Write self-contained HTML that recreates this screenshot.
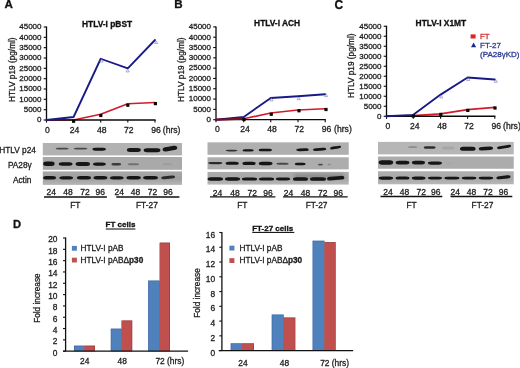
<!DOCTYPE html>
<html><head><meta charset="utf-8"><style>
html,body{margin:0;padding:0;background:#fff;}
svg{display:block;font-family:"Liberation Sans", sans-serif;filter:blur(0.25px);}
</style></head><body>
<svg width="520" height="368" viewBox="0 0 520 368">
<defs><filter id="bl" x="-20%" y="-100%" width="140%" height="300%"><feGaussianBlur stdDeviation="0.7"/></filter><filter id="bl2" x="-20%" y="-100%" width="140%" height="300%"><feGaussianBlur stdDeviation="1.5"/></filter></defs>
<rect width="520" height="368" fill="#fff"/>
<text x="4.60" y="8.10" font-size="11.6" text-anchor="start" font-weight="bold" fill="#111" stroke="#111" stroke-width="0.3" >A</text>
<text x="174.30" y="8.10" font-size="11.6" text-anchor="start" font-weight="bold" fill="#111" stroke="#111" stroke-width="0.3" >B</text>
<text x="334.40" y="8.60" font-size="12" text-anchor="start" font-weight="bold" fill="#111" stroke="#111" stroke-width="0.3" >C</text>
<path d="M46.50,120.00 L73.60,120.00 L100.70,114.25 L127.80,103.75 L155.00,102.50" fill="none" stroke="#d01c2c" stroke-width="1.7" stroke-linejoin="round" stroke-linecap="round" />
<line x1="46.50" y1="26.50" x2="46.50" y2="120.50" stroke="#0a0a0a" stroke-width="1.3" />
<line x1="43.70" y1="120.00" x2="46.50" y2="120.00" stroke="#0a0a0a" stroke-width="1.1" />
<text x="41.50" y="122.30" font-size="8" text-anchor="end" font-weight="normal" fill="#1e1e1e" stroke="#1e1e1e" stroke-width="0.3" >0</text>
<line x1="43.70" y1="109.67" x2="46.50" y2="109.67" stroke="#0a0a0a" stroke-width="1.1" />
<text x="41.50" y="111.97" font-size="8" text-anchor="end" font-weight="normal" fill="#1e1e1e" stroke="#1e1e1e" stroke-width="0.3" >5000</text>
<line x1="43.70" y1="99.33" x2="46.50" y2="99.33" stroke="#0a0a0a" stroke-width="1.1" />
<text x="41.50" y="101.63" font-size="8" text-anchor="end" font-weight="normal" fill="#1e1e1e" stroke="#1e1e1e" stroke-width="0.3" >10000</text>
<line x1="43.70" y1="89.00" x2="46.50" y2="89.00" stroke="#0a0a0a" stroke-width="1.1" />
<text x="41.50" y="91.30" font-size="8" text-anchor="end" font-weight="normal" fill="#1e1e1e" stroke="#1e1e1e" stroke-width="0.3" >15000</text>
<line x1="43.70" y1="78.67" x2="46.50" y2="78.67" stroke="#0a0a0a" stroke-width="1.1" />
<text x="41.50" y="80.97" font-size="8" text-anchor="end" font-weight="normal" fill="#1e1e1e" stroke="#1e1e1e" stroke-width="0.3" >20000</text>
<line x1="43.70" y1="68.33" x2="46.50" y2="68.33" stroke="#0a0a0a" stroke-width="1.1" />
<text x="41.50" y="70.63" font-size="8" text-anchor="end" font-weight="normal" fill="#1e1e1e" stroke="#1e1e1e" stroke-width="0.3" >25000</text>
<line x1="43.70" y1="58.00" x2="46.50" y2="58.00" stroke="#0a0a0a" stroke-width="1.1" />
<text x="41.50" y="60.30" font-size="8" text-anchor="end" font-weight="normal" fill="#1e1e1e" stroke="#1e1e1e" stroke-width="0.3" >30000</text>
<line x1="43.70" y1="47.67" x2="46.50" y2="47.67" stroke="#0a0a0a" stroke-width="1.1" />
<text x="41.50" y="49.97" font-size="8" text-anchor="end" font-weight="normal" fill="#1e1e1e" stroke="#1e1e1e" stroke-width="0.3" >35000</text>
<line x1="43.70" y1="37.33" x2="46.50" y2="37.33" stroke="#0a0a0a" stroke-width="1.1" />
<text x="41.50" y="39.63" font-size="8" text-anchor="end" font-weight="normal" fill="#1e1e1e" stroke="#1e1e1e" stroke-width="0.3" >40000</text>
<line x1="43.70" y1="27.00" x2="46.50" y2="27.00" stroke="#0a0a0a" stroke-width="1.1" />
<text x="41.50" y="29.30" font-size="8" text-anchor="end" font-weight="normal" fill="#1e1e1e" stroke="#1e1e1e" stroke-width="0.3" >45000</text>
<line x1="46.50" y1="120.00" x2="155.60" y2="120.00" stroke="#0a0a0a" stroke-width="1.3" />
<line x1="46.50" y1="120.00" x2="46.50" y2="122.60" stroke="#0a0a0a" stroke-width="1.1" />
<line x1="73.60" y1="120.00" x2="73.60" y2="122.60" stroke="#0a0a0a" stroke-width="1.1" />
<line x1="100.70" y1="120.00" x2="100.70" y2="122.60" stroke="#0a0a0a" stroke-width="1.1" />
<line x1="127.80" y1="120.00" x2="127.80" y2="122.60" stroke="#0a0a0a" stroke-width="1.1" />
<line x1="155.00" y1="120.00" x2="155.00" y2="122.60" stroke="#0a0a0a" stroke-width="1.1" />
<text x="47.50" y="133.25" font-size="8.6" text-anchor="middle" font-weight="normal" fill="#1e1e1e" stroke="#1e1e1e" stroke-width="0.3" >0</text>
<text x="74.60" y="133.25" font-size="8.6" text-anchor="middle" font-weight="normal" fill="#1e1e1e" stroke="#1e1e1e" stroke-width="0.3" >24</text>
<text x="101.70" y="133.25" font-size="8.6" text-anchor="middle" font-weight="normal" fill="#1e1e1e" stroke="#1e1e1e" stroke-width="0.3" >48</text>
<text x="128.80" y="133.25" font-size="8.6" text-anchor="middle" font-weight="normal" fill="#1e1e1e" stroke="#1e1e1e" stroke-width="0.3" >72</text>
<text x="156.00" y="133.25" font-size="8.6" text-anchor="middle" font-weight="normal" fill="#1e1e1e" stroke="#1e1e1e" stroke-width="0.3" >96</text>
<text x="162.80" y="133.25" font-size="8.6" text-anchor="start" font-weight="normal" fill="#1e1e1e" stroke="#1e1e1e" stroke-width="0.3" >(hrs)</text>
<text x="82.00" y="26.85" font-size="8.4" text-anchor="start" font-weight="bold" fill="#111" stroke="#111" stroke-width="0.3" >HTLV-I pBST</text>
<text x="0.00" y="0.00" font-size="8.25" text-anchor="middle" font-weight="normal" fill="#1e1e1e" stroke="#1e1e1e" stroke-width="0.3" transform="translate(14.60,69.65) rotate(-90)">HTLV p19 (pg/ml)</text>
<path d="M46.50,120.00 L73.60,117.00 L100.70,58.75 L127.80,68.40 L155.00,40.00" fill="none" stroke="#1a1a86" stroke-width="1.85" stroke-linejoin="round" stroke-linecap="round" />
<rect x="72.00" y="119.60" width="3.20" height="3.20" fill="#050505" />
<rect x="99.20" y="113.90" width="3.20" height="3.20" fill="#050505" />
<rect x="126.20" y="103.60" width="3.20" height="3.20" fill="#050505" />
<rect x="153.80" y="102.00" width="3.20" height="3.20" fill="#050505" />
<path d="M216.00,119.70 L243.75,118.75 L270.75,113.00 L298.00,110.00 L325.20,108.75" fill="none" stroke="#d01c2c" stroke-width="1.7" stroke-linejoin="round" stroke-linecap="round" />
<line x1="216.00" y1="26.40" x2="216.00" y2="120.20" stroke="#0a0a0a" stroke-width="1.3" />
<line x1="213.20" y1="119.70" x2="216.00" y2="119.70" stroke="#0a0a0a" stroke-width="1.1" />
<text x="211.00" y="122.00" font-size="8" text-anchor="end" font-weight="normal" fill="#1e1e1e" stroke="#1e1e1e" stroke-width="0.3" >0</text>
<line x1="213.20" y1="109.39" x2="216.00" y2="109.39" stroke="#0a0a0a" stroke-width="1.1" />
<text x="211.00" y="111.69" font-size="8" text-anchor="end" font-weight="normal" fill="#1e1e1e" stroke="#1e1e1e" stroke-width="0.3" >5000</text>
<line x1="213.20" y1="99.08" x2="216.00" y2="99.08" stroke="#0a0a0a" stroke-width="1.1" />
<text x="211.00" y="101.38" font-size="8" text-anchor="end" font-weight="normal" fill="#1e1e1e" stroke="#1e1e1e" stroke-width="0.3" >10000</text>
<line x1="213.20" y1="88.77" x2="216.00" y2="88.77" stroke="#0a0a0a" stroke-width="1.1" />
<text x="211.00" y="91.07" font-size="8" text-anchor="end" font-weight="normal" fill="#1e1e1e" stroke="#1e1e1e" stroke-width="0.3" >15000</text>
<line x1="213.20" y1="78.46" x2="216.00" y2="78.46" stroke="#0a0a0a" stroke-width="1.1" />
<text x="211.00" y="80.76" font-size="8" text-anchor="end" font-weight="normal" fill="#1e1e1e" stroke="#1e1e1e" stroke-width="0.3" >20000</text>
<line x1="213.20" y1="68.14" x2="216.00" y2="68.14" stroke="#0a0a0a" stroke-width="1.1" />
<text x="211.00" y="70.44" font-size="8" text-anchor="end" font-weight="normal" fill="#1e1e1e" stroke="#1e1e1e" stroke-width="0.3" >25000</text>
<line x1="213.20" y1="57.83" x2="216.00" y2="57.83" stroke="#0a0a0a" stroke-width="1.1" />
<text x="211.00" y="60.13" font-size="8" text-anchor="end" font-weight="normal" fill="#1e1e1e" stroke="#1e1e1e" stroke-width="0.3" >30000</text>
<line x1="213.20" y1="47.52" x2="216.00" y2="47.52" stroke="#0a0a0a" stroke-width="1.1" />
<text x="211.00" y="49.82" font-size="8" text-anchor="end" font-weight="normal" fill="#1e1e1e" stroke="#1e1e1e" stroke-width="0.3" >35000</text>
<line x1="213.20" y1="37.21" x2="216.00" y2="37.21" stroke="#0a0a0a" stroke-width="1.1" />
<text x="211.00" y="39.51" font-size="8" text-anchor="end" font-weight="normal" fill="#1e1e1e" stroke="#1e1e1e" stroke-width="0.3" >40000</text>
<line x1="213.20" y1="26.90" x2="216.00" y2="26.90" stroke="#0a0a0a" stroke-width="1.1" />
<text x="211.00" y="29.20" font-size="8" text-anchor="end" font-weight="normal" fill="#1e1e1e" stroke="#1e1e1e" stroke-width="0.3" >45000</text>
<line x1="216.00" y1="119.70" x2="325.80" y2="119.70" stroke="#0a0a0a" stroke-width="1.3" />
<line x1="216.00" y1="119.70" x2="216.00" y2="122.30" stroke="#0a0a0a" stroke-width="1.1" />
<line x1="243.75" y1="119.70" x2="243.75" y2="122.30" stroke="#0a0a0a" stroke-width="1.1" />
<line x1="270.75" y1="119.70" x2="270.75" y2="122.30" stroke="#0a0a0a" stroke-width="1.1" />
<line x1="298.00" y1="119.70" x2="298.00" y2="122.30" stroke="#0a0a0a" stroke-width="1.1" />
<line x1="325.20" y1="119.70" x2="325.20" y2="122.30" stroke="#0a0a0a" stroke-width="1.1" />
<text x="217.30" y="132.25" font-size="8.6" text-anchor="middle" font-weight="normal" fill="#1e1e1e" stroke="#1e1e1e" stroke-width="0.3" >0</text>
<text x="245.05" y="132.25" font-size="8.6" text-anchor="middle" font-weight="normal" fill="#1e1e1e" stroke="#1e1e1e" stroke-width="0.3" >24</text>
<text x="272.05" y="132.25" font-size="8.6" text-anchor="middle" font-weight="normal" fill="#1e1e1e" stroke="#1e1e1e" stroke-width="0.3" >48</text>
<text x="299.30" y="132.25" font-size="8.6" text-anchor="middle" font-weight="normal" fill="#1e1e1e" stroke="#1e1e1e" stroke-width="0.3" >72</text>
<text x="326.50" y="132.25" font-size="8.6" text-anchor="middle" font-weight="normal" fill="#1e1e1e" stroke="#1e1e1e" stroke-width="0.3" >96</text>
<text x="334.10" y="132.25" font-size="8.6" text-anchor="start" font-weight="normal" fill="#1e1e1e" stroke="#1e1e1e" stroke-width="0.3" >(hrs)</text>
<text x="254.10" y="26.35" font-size="8.4" text-anchor="start" font-weight="bold" fill="#111" stroke="#111" stroke-width="0.3" >HTLV-I ACH</text>
<text x="0.00" y="0.00" font-size="8.25" text-anchor="middle" font-weight="normal" fill="#1e1e1e" stroke="#1e1e1e" stroke-width="0.3" transform="translate(184.20,69.65) rotate(-90)">HTLV p19 (pg/ml)</text>
<path d="M216.00,119.70 L243.75,117.00 L270.75,98.00 L298.00,96.25 L325.20,94.25" fill="none" stroke="#1a1a86" stroke-width="1.85" stroke-linejoin="round" stroke-linecap="round" />
<path d="M216.00,119.70 L243.75,118.75" fill="none" stroke="#7a1020" stroke-width="1.9" stroke-linejoin="round" stroke-linecap="round" />
<rect x="242.40" y="117.90" width="3.20" height="3.20" fill="#050505" />
<rect x="269.65" y="112.65" width="3.20" height="3.20" fill="#050505" />
<rect x="297.40" y="109.15" width="3.20" height="3.20" fill="#050505" />
<rect x="324.40" y="107.90" width="3.20" height="3.20" fill="#050505" />
<path d="M386.50,116.25 L413.30,115.50 L440.60,113.80 L467.60,109.60 L494.80,107.30" fill="none" stroke="#d01c2c" stroke-width="1.7" stroke-linejoin="round" stroke-linecap="round" />
<line x1="386.50" y1="25.75" x2="386.50" y2="116.75" stroke="#0a0a0a" stroke-width="1.3" />
<line x1="383.70" y1="116.25" x2="386.50" y2="116.25" stroke="#0a0a0a" stroke-width="1.1" />
<text x="381.50" y="118.55" font-size="8" text-anchor="end" font-weight="normal" fill="#1e1e1e" stroke="#1e1e1e" stroke-width="0.3" >0</text>
<line x1="383.70" y1="106.25" x2="386.50" y2="106.25" stroke="#0a0a0a" stroke-width="1.1" />
<text x="381.50" y="108.55" font-size="8" text-anchor="end" font-weight="normal" fill="#1e1e1e" stroke="#1e1e1e" stroke-width="0.3" >5000</text>
<line x1="383.70" y1="96.25" x2="386.50" y2="96.25" stroke="#0a0a0a" stroke-width="1.1" />
<text x="381.50" y="98.55" font-size="8" text-anchor="end" font-weight="normal" fill="#1e1e1e" stroke="#1e1e1e" stroke-width="0.3" >10000</text>
<line x1="383.70" y1="86.25" x2="386.50" y2="86.25" stroke="#0a0a0a" stroke-width="1.1" />
<text x="381.50" y="88.55" font-size="8" text-anchor="end" font-weight="normal" fill="#1e1e1e" stroke="#1e1e1e" stroke-width="0.3" >15000</text>
<line x1="383.70" y1="76.25" x2="386.50" y2="76.25" stroke="#0a0a0a" stroke-width="1.1" />
<text x="381.50" y="78.55" font-size="8" text-anchor="end" font-weight="normal" fill="#1e1e1e" stroke="#1e1e1e" stroke-width="0.3" >20000</text>
<line x1="383.70" y1="66.25" x2="386.50" y2="66.25" stroke="#0a0a0a" stroke-width="1.1" />
<text x="381.50" y="68.55" font-size="8" text-anchor="end" font-weight="normal" fill="#1e1e1e" stroke="#1e1e1e" stroke-width="0.3" >25000</text>
<line x1="383.70" y1="56.25" x2="386.50" y2="56.25" stroke="#0a0a0a" stroke-width="1.1" />
<text x="381.50" y="58.55" font-size="8" text-anchor="end" font-weight="normal" fill="#1e1e1e" stroke="#1e1e1e" stroke-width="0.3" >30000</text>
<line x1="383.70" y1="46.25" x2="386.50" y2="46.25" stroke="#0a0a0a" stroke-width="1.1" />
<text x="381.50" y="48.55" font-size="8" text-anchor="end" font-weight="normal" fill="#1e1e1e" stroke="#1e1e1e" stroke-width="0.3" >35000</text>
<line x1="383.70" y1="36.25" x2="386.50" y2="36.25" stroke="#0a0a0a" stroke-width="1.1" />
<text x="381.50" y="38.55" font-size="8" text-anchor="end" font-weight="normal" fill="#1e1e1e" stroke="#1e1e1e" stroke-width="0.3" >40000</text>
<line x1="383.70" y1="26.25" x2="386.50" y2="26.25" stroke="#0a0a0a" stroke-width="1.1" />
<text x="381.50" y="28.55" font-size="8" text-anchor="end" font-weight="normal" fill="#1e1e1e" stroke="#1e1e1e" stroke-width="0.3" >45000</text>
<line x1="386.50" y1="116.25" x2="495.40" y2="116.25" stroke="#0a0a0a" stroke-width="1.3" />
<line x1="386.50" y1="116.25" x2="386.50" y2="118.85" stroke="#0a0a0a" stroke-width="1.1" />
<line x1="413.30" y1="116.25" x2="413.30" y2="118.85" stroke="#0a0a0a" stroke-width="1.1" />
<line x1="440.60" y1="116.25" x2="440.60" y2="118.85" stroke="#0a0a0a" stroke-width="1.1" />
<line x1="467.60" y1="116.25" x2="467.60" y2="118.85" stroke="#0a0a0a" stroke-width="1.1" />
<line x1="494.80" y1="116.25" x2="494.80" y2="118.85" stroke="#0a0a0a" stroke-width="1.1" />
<text x="387.90" y="128.75" font-size="8.6" text-anchor="middle" font-weight="normal" fill="#1e1e1e" stroke="#1e1e1e" stroke-width="0.3" >0</text>
<text x="414.70" y="128.75" font-size="8.6" text-anchor="middle" font-weight="normal" fill="#1e1e1e" stroke="#1e1e1e" stroke-width="0.3" >24</text>
<text x="442.00" y="128.75" font-size="8.6" text-anchor="middle" font-weight="normal" fill="#1e1e1e" stroke="#1e1e1e" stroke-width="0.3" >48</text>
<text x="469.00" y="128.75" font-size="8.6" text-anchor="middle" font-weight="normal" fill="#1e1e1e" stroke="#1e1e1e" stroke-width="0.3" >72</text>
<text x="496.20" y="128.75" font-size="8.6" text-anchor="middle" font-weight="normal" fill="#1e1e1e" stroke="#1e1e1e" stroke-width="0.3" >96</text>
<text x="503.10" y="128.75" font-size="8.6" text-anchor="start" font-weight="normal" fill="#1e1e1e" stroke="#1e1e1e" stroke-width="0.3" >(hrs)</text>
<text x="415.60" y="26.35" font-size="8.4" text-anchor="start" font-weight="bold" fill="#111" stroke="#111" stroke-width="0.3" >HTLV-I X1MT</text>
<text x="0.00" y="0.00" font-size="8.25" text-anchor="middle" font-weight="normal" fill="#1e1e1e" stroke="#1e1e1e" stroke-width="0.3" transform="translate(354.20,65.75) rotate(-90)">HTLV p19 (pg/ml)</text>
<path d="M386.50,116.25 L413.30,114.80 L440.60,94.60 L467.60,77.50 L494.80,79.50" fill="none" stroke="#1a1a86" stroke-width="1.85" stroke-linejoin="round" stroke-linecap="round" />
<rect x="411.70" y="114.40" width="3.20" height="3.20" fill="#050505" />
<rect x="439.20" y="112.80" width="3.20" height="3.20" fill="#050505" />
<rect x="466.20" y="108.80" width="3.20" height="3.20" fill="#050505" />
<rect x="493.40" y="106.40" width="3.20" height="3.20" fill="#050505" />
<rect x="470.60" y="34.40" width="5.00" height="4.10" fill="#e0202a" />
<text x="480.00" y="38.50" font-size="7.8" text-anchor="start" font-weight="normal" fill="#d42a2a" stroke="#d42a2a" stroke-width="0.3" >FT</text>
<path d="M471,47.3 L473.6,42.5 L476.2,47.3 Z" fill="#1c2a8e"/>
<text x="480.00" y="47.70" font-size="8" text-anchor="start" font-weight="normal" fill="#2c3c90" stroke="#2c3c90" stroke-width="0.3" >FT-27</text>
<text x="480.00" y="57.00" font-size="8" text-anchor="start" font-weight="normal" fill="#2c3c90" stroke="#2c3c90" stroke-width="0.3" >(PA28γKD)</text>
<path d="M99.90,62.10 L101.50,59.40 L103.10,62.10 Z" fill="none" stroke="#8c8cb4" stroke-width="0.7"/>
<path d="M126.00,71.90 L127.60,69.20 L129.20,71.90 Z" fill="none" stroke="#8c8cb4" stroke-width="0.7"/>
<path d="M154.60,43.50 L156.20,40.80 L157.80,43.50 Z" fill="none" stroke="#8c8cb4" stroke-width="0.7"/>
<path d="M269.90,100.90 L271.50,98.20 L273.10,100.90 Z" fill="none" stroke="#8c8cb4" stroke-width="0.7"/>
<path d="M297.10,99.70 L298.70,97.00 L300.30,99.70 Z" fill="none" stroke="#8c8cb4" stroke-width="0.7"/>
<path d="M324.50,96.60 L326.10,93.90 L327.70,96.60 Z" fill="none" stroke="#8c8cb4" stroke-width="0.7"/>
<path d="M439.60,97.90 L441.20,95.20 L442.80,97.90 Z" fill="none" stroke="#8c8cb4" stroke-width="0.7"/>
<path d="M466.60,80.50 L468.20,77.80 L469.80,80.50 Z" fill="none" stroke="#8c8cb4" stroke-width="0.7"/>
<path d="M494.20,82.30 L495.80,79.60 L497.40,82.30 Z" fill="none" stroke="#8c8cb4" stroke-width="0.7"/>
<rect x="42.80" y="143.00" width="139.20" height="12.40" fill="#b2b2b2" />
<rect x="42.80" y="157.00" width="139.20" height="12.80" fill="#a9a9a9" />
<linearGradient id="g144" x1="0" y1="0" x2="0" y2="1"><stop offset="0" stop-color="#a6a6a6"/><stop offset="0.55" stop-color="#a0a0a0"/><stop offset="1" stop-color="#b6b6b6"/></linearGradient>
<rect x="42.80" y="171.40" width="139.20" height="13.50" fill="url(#g144)" />
<g filter="url(#bl)">
<rect x="55.60" y="147.70" width="13.15" height="1.80" rx="3.20" ry="0.90" fill="#4a4a4a" />
<rect x="73.75" y="147.70" width="13.75" height="1.80" rx="3.20" ry="0.90" fill="#4a4a4a" />
<rect x="92.50" y="147.75" width="13.30" height="2.90" rx="3.20" ry="1.45" fill="#141414" />
<rect x="126.90" y="148.05" width="13.90" height="3.90" rx="3.20" ry="1.95" fill="#141414" />
<rect x="143.70" y="148.35" width="16.70" height="3.90" rx="3.20" ry="1.95" fill="#141414" />
<rect x="162.50" y="146.45" width="14.80" height="4.30" rx="3.20" ry="2.15" fill="#141414" transform="rotate(-9.0 169.90 148.60)"/>
<rect x="43.20" y="161.55" width="11.40" height="4.50" rx="3.13" ry="2.25" fill="#141414" />
<rect x="58.75" y="162.35" width="13.75" height="3.30" rx="3.20" ry="1.65" fill="#141414" />
<rect x="75.60" y="162.10" width="14.40" height="3.80" rx="3.20" ry="1.90" fill="#141414" />
<rect x="93.00" y="162.45" width="12.80" height="3.30" rx="3.20" ry="1.65" fill="#141414" />
<rect x="111.30" y="163.00" width="9.90" height="2.40" rx="2.72" ry="1.20" fill="#3a3a3a" />
<rect x="127.70" y="163.30" width="11.40" height="2.00" rx="3.13" ry="1.00" fill="#707070" />
<rect x="162.30" y="163.25" width="10.00" height="1.90" rx="2.75" ry="0.95" fill="#9c9c9c" />
<rect x="43.20" y="175.95" width="12.80" height="3.50" rx="3.20" ry="1.75" fill="#141414" />
<rect x="59.40" y="176.20" width="13.60" height="3.20" rx="3.20" ry="1.60" fill="#141414" />
<rect x="76.90" y="176.10" width="14.10" height="3.40" rx="3.20" ry="1.70" fill="#141414" />
<rect x="93.50" y="176.10" width="13.80" height="3.40" rx="3.20" ry="1.70" fill="#141414" />
<rect x="110.00" y="176.20" width="13.60" height="3.20" rx="3.20" ry="1.60" fill="#141414" />
<rect x="126.40" y="176.10" width="14.40" height="3.40" rx="3.20" ry="1.70" fill="#141414" />
<rect x="143.20" y="176.10" width="14.70" height="3.40" rx="3.20" ry="1.70" fill="#141414" />
<rect x="161.20" y="175.85" width="13.90" height="3.10" rx="3.20" ry="1.55" fill="#2c2c2c" transform="rotate(-5.0 168.15 177.40)"/>
</g>
<rect x="207.50" y="142.30" width="141.25" height="12.50" fill="#afafaf" />
<rect x="207.50" y="157.30" width="141.25" height="12.10" fill="#adadad" />
<linearGradient id="g171" x1="0" y1="0" x2="0" y2="1"><stop offset="0" stop-color="#acacac"/><stop offset="0.55" stop-color="#a6a6a6"/><stop offset="1" stop-color="#b9b9b9"/></linearGradient>
<rect x="207.50" y="171.90" width="141.25" height="12.70" fill="url(#g171)" />
<g filter="url(#bl2)">
<rect x="294.00" y="174.00" width="50.00" height="4.00" rx="2" fill="#8a8a8a"/>
</g>
<g filter="url(#bl)">
<rect x="225.60" y="149.80" width="11.90" height="1.60" rx="3.20" ry="0.80" fill="#333" />
<rect x="242.50" y="149.35" width="11.25" height="2.10" rx="3.09" ry="1.05" fill="#141414" />
<rect x="258.75" y="148.75" width="13.15" height="2.50" rx="3.20" ry="1.25" fill="#141414" />
<rect x="296.25" y="148.40" width="12.50" height="2.70" rx="3.20" ry="1.35" fill="#141414" transform="rotate(-1.0 302.50 149.75)"/>
<rect x="313.00" y="148.05" width="13.25" height="2.70" rx="3.20" ry="1.35" fill="#141414" transform="rotate(-3.0 319.62 149.40)"/>
<rect x="330.00" y="146.25" width="11.25" height="2.70" rx="3.09" ry="1.35" fill="#141414" transform="rotate(-8.0 335.62 147.60)"/>
<rect x="208.00" y="162.05" width="14.50" height="2.10" rx="3.20" ry="1.05" fill="#2c2c2c" />
<rect x="225.60" y="161.75" width="13.15" height="3.10" rx="3.20" ry="1.55" fill="#141414" />
<rect x="242.50" y="161.85" width="13.10" height="3.10" rx="3.20" ry="1.55" fill="#141414" />
<rect x="258.75" y="161.85" width="13.75" height="3.30" rx="3.20" ry="1.65" fill="#141414" />
<rect x="276.25" y="162.80" width="12.50" height="2.00" rx="3.20" ry="1.00" fill="#484848" />
<rect x="294.75" y="162.75" width="10.85" height="2.50" rx="2.98" ry="1.25" fill="#141414" />
<rect x="318.00" y="163.65" width="5.00" height="1.90" rx="1.38" ry="0.95" fill="#505050" />
<rect x="327.50" y="163.85" width="3.50" height="1.50" rx="0.96" ry="0.75" fill="#8a8a8a" />
<rect x="207.60" y="177.35" width="15.40" height="3.30" rx="3.20" ry="1.65" fill="#141414" />
<rect x="225.00" y="177.35" width="15.00" height="3.30" rx="3.20" ry="1.65" fill="#141414" />
<rect x="242.00" y="177.45" width="15.00" height="3.10" rx="3.20" ry="1.55" fill="#141414" />
<rect x="259.00" y="177.45" width="15.00" height="3.10" rx="3.20" ry="1.55" fill="#141414" />
<rect x="276.00" y="177.55" width="14.00" height="2.90" rx="3.20" ry="1.45" fill="#141414" />
<rect x="293.00" y="177.15" width="15.00" height="3.70" rx="3.20" ry="1.85" fill="#141414" />
<rect x="310.00" y="177.15" width="16.00" height="3.70" rx="3.20" ry="1.85" fill="#141414" />
<rect x="327.00" y="176.35" width="17.40" height="3.70" rx="3.20" ry="1.85" fill="#141414" transform="rotate(-5.0 335.70 178.20)"/>
</g>
<rect x="378.00" y="141.90" width="135.75" height="12.50" fill="#b6b6b6" />
<rect x="378.00" y="156.50" width="135.75" height="12.25" fill="#acacac" />
<linearGradient id="g202" x1="0" y1="0" x2="0" y2="1"><stop offset="0" stop-color="#b0b0b0"/><stop offset="0.55" stop-color="#a8a8a8"/><stop offset="1" stop-color="#b8b8b8"/></linearGradient>
<rect x="378.00" y="171.25" width="135.75" height="13.05" fill="url(#g202)" />
<g filter="url(#bl)">
<rect x="408.00" y="146.20" width="9.50" height="1.80" rx="2.61" ry="0.90" fill="#8c8c8c" />
<rect x="423.75" y="146.25" width="11.85" height="2.50" rx="3.20" ry="1.25" fill="#2c2c2c" />
<rect x="441.90" y="146.55" width="12.50" height="2.90" rx="3.20" ry="1.45" fill="#a6a6a6" />
<rect x="460.00" y="146.70" width="15.60" height="4.10" rx="3.20" ry="2.05" fill="#141414" />
<rect x="478.75" y="146.75" width="14.35" height="3.50" rx="3.20" ry="1.75" fill="#141414" transform="rotate(-3.0 485.93 148.50)"/>
<rect x="496.90" y="145.55" width="14.35" height="2.90" rx="3.20" ry="1.45" fill="#141414" transform="rotate(-9.0 504.07 147.00)"/>
<rect x="378.75" y="160.35" width="14.35" height="4.30" rx="3.20" ry="2.15" fill="#141414" />
<rect x="395.60" y="160.75" width="13.80" height="3.70" rx="3.20" ry="1.85" fill="#141414" />
<rect x="411.90" y="160.70" width="13.10" height="3.80" rx="3.20" ry="1.90" fill="#141414" />
<rect x="428.00" y="161.55" width="13.90" height="3.10" rx="3.20" ry="1.55" fill="#141414" />
<rect x="446.00" y="162.35" width="7.75" height="2.30" rx="2.13" ry="1.15" fill="#a8a8a8" />
<rect x="378.75" y="176.55" width="14.25" height="3.10" rx="3.20" ry="1.55" fill="#141414" />
<rect x="395.60" y="176.60" width="13.80" height="3.00" rx="3.20" ry="1.50" fill="#141414" />
<rect x="411.90" y="176.55" width="13.60" height="3.10" rx="3.20" ry="1.55" fill="#141414" />
<rect x="428.00" y="176.70" width="14.00" height="2.80" rx="3.20" ry="1.40" fill="#141414" />
<rect x="444.40" y="176.65" width="15.00" height="2.90" rx="3.20" ry="1.45" fill="#141414" />
<rect x="461.90" y="176.65" width="14.35" height="2.90" rx="3.20" ry="1.45" fill="#141414" />
<rect x="478.75" y="176.65" width="14.35" height="2.90" rx="3.20" ry="1.45" fill="#141414" />
<rect x="496.25" y="175.75" width="14.35" height="3.10" rx="3.20" ry="1.55" fill="#141414" transform="rotate(-6.0 503.43 177.30)"/>
</g>
<text x="-0.80" y="153.30" font-size="8.3" text-anchor="start" font-weight="normal" fill="#1e1e1e" stroke="#1e1e1e" stroke-width="0.3" >HTLV p24</text>
<text x="7.90" y="167.60" font-size="8.3" text-anchor="start" font-weight="normal" fill="#1e1e1e" stroke="#1e1e1e" stroke-width="0.3" >PA28γ</text>
<text x="12.90" y="183.20" font-size="8.3" text-anchor="start" font-weight="normal" fill="#1e1e1e" stroke="#1e1e1e" stroke-width="0.3" >Actin</text>
<text x="51.25" y="195.30" font-size="8.5" text-anchor="middle" font-weight="normal" fill="#1e1e1e" stroke="#1e1e1e" stroke-width="0.3" >24</text>
<text x="68.00" y="195.30" font-size="8.5" text-anchor="middle" font-weight="normal" fill="#1e1e1e" stroke="#1e1e1e" stroke-width="0.3" >48</text>
<text x="85.00" y="195.30" font-size="8.5" text-anchor="middle" font-weight="normal" fill="#1e1e1e" stroke="#1e1e1e" stroke-width="0.3" >72</text>
<text x="100.30" y="195.30" font-size="8.5" text-anchor="middle" font-weight="normal" fill="#1e1e1e" stroke="#1e1e1e" stroke-width="0.3" >96</text>
<text x="119.25" y="195.30" font-size="8.5" text-anchor="middle" font-weight="normal" fill="#1e1e1e" stroke="#1e1e1e" stroke-width="0.3" >24</text>
<text x="135.60" y="195.30" font-size="8.5" text-anchor="middle" font-weight="normal" fill="#1e1e1e" stroke="#1e1e1e" stroke-width="0.3" >48</text>
<text x="152.50" y="195.30" font-size="8.5" text-anchor="middle" font-weight="normal" fill="#1e1e1e" stroke="#1e1e1e" stroke-width="0.3" >72</text>
<text x="168.00" y="195.30" font-size="8.5" text-anchor="middle" font-weight="normal" fill="#1e1e1e" stroke="#1e1e1e" stroke-width="0.3" >96</text>
<line x1="44.00" y1="197.00" x2="106.90" y2="197.00" stroke="#111" stroke-width="1.4" />
<line x1="116.25" y1="197.00" x2="179.40" y2="197.00" stroke="#111" stroke-width="1.4" />
<text x="75.30" y="208.00" font-size="8.4" text-anchor="middle" font-weight="normal" fill="#1e1e1e" stroke="#1e1e1e" stroke-width="0.3" >FT</text>
<text x="146.90" y="208.00" font-size="8.4" text-anchor="middle" font-weight="normal" fill="#1e1e1e" stroke="#1e1e1e" stroke-width="0.3" >FT-27</text>
<text x="217.50" y="195.60" font-size="8.5" text-anchor="middle" font-weight="normal" fill="#1e1e1e" stroke="#1e1e1e" stroke-width="0.3" >24</text>
<text x="235.10" y="195.60" font-size="8.5" text-anchor="middle" font-weight="normal" fill="#1e1e1e" stroke="#1e1e1e" stroke-width="0.3" >48</text>
<text x="252.30" y="195.60" font-size="8.5" text-anchor="middle" font-weight="normal" fill="#1e1e1e" stroke="#1e1e1e" stroke-width="0.3" >72</text>
<text x="268.00" y="195.60" font-size="8.5" text-anchor="middle" font-weight="normal" fill="#1e1e1e" stroke="#1e1e1e" stroke-width="0.3" >96</text>
<text x="288.40" y="195.60" font-size="8.5" text-anchor="middle" font-weight="normal" fill="#1e1e1e" stroke="#1e1e1e" stroke-width="0.3" >24</text>
<text x="305.40" y="195.60" font-size="8.5" text-anchor="middle" font-weight="normal" fill="#1e1e1e" stroke="#1e1e1e" stroke-width="0.3" >48</text>
<text x="322.70" y="195.60" font-size="8.5" text-anchor="middle" font-weight="normal" fill="#1e1e1e" stroke="#1e1e1e" stroke-width="0.3" >72</text>
<text x="338.20" y="195.60" font-size="8.5" text-anchor="middle" font-weight="normal" fill="#1e1e1e" stroke="#1e1e1e" stroke-width="0.3" >96</text>
<line x1="210.00" y1="196.90" x2="275.40" y2="196.90" stroke="#111" stroke-width="1.4" />
<line x1="283.00" y1="196.90" x2="347.70" y2="196.90" stroke="#111" stroke-width="1.4" />
<text x="242.30" y="207.80" font-size="8.4" text-anchor="middle" font-weight="normal" fill="#1e1e1e" stroke="#1e1e1e" stroke-width="0.3" >FT</text>
<text x="316.60" y="207.80" font-size="8.4" text-anchor="middle" font-weight="normal" fill="#1e1e1e" stroke="#1e1e1e" stroke-width="0.3" >FT-27</text>
<text x="387.90" y="195.40" font-size="8.5" text-anchor="middle" font-weight="normal" fill="#1e1e1e" stroke="#1e1e1e" stroke-width="0.3" >24</text>
<text x="404.50" y="195.40" font-size="8.5" text-anchor="middle" font-weight="normal" fill="#1e1e1e" stroke="#1e1e1e" stroke-width="0.3" >48</text>
<text x="421.20" y="195.40" font-size="8.5" text-anchor="middle" font-weight="normal" fill="#1e1e1e" stroke="#1e1e1e" stroke-width="0.3" >72</text>
<text x="435.80" y="195.40" font-size="8.5" text-anchor="middle" font-weight="normal" fill="#1e1e1e" stroke="#1e1e1e" stroke-width="0.3" >96</text>
<text x="455.20" y="195.40" font-size="8.5" text-anchor="middle" font-weight="normal" fill="#1e1e1e" stroke="#1e1e1e" stroke-width="0.3" >24</text>
<text x="471.50" y="195.40" font-size="8.5" text-anchor="middle" font-weight="normal" fill="#1e1e1e" stroke="#1e1e1e" stroke-width="0.3" >48</text>
<text x="488.00" y="195.40" font-size="8.5" text-anchor="middle" font-weight="normal" fill="#1e1e1e" stroke="#1e1e1e" stroke-width="0.3" >72</text>
<text x="503.50" y="195.40" font-size="8.5" text-anchor="middle" font-weight="normal" fill="#1e1e1e" stroke="#1e1e1e" stroke-width="0.3" >96</text>
<line x1="380.50" y1="196.50" x2="442.30" y2="196.50" stroke="#111" stroke-width="1.4" />
<line x1="450.50" y1="196.50" x2="512.30" y2="196.50" stroke="#111" stroke-width="1.4" />
<text x="411.50" y="207.80" font-size="8.4" text-anchor="middle" font-weight="normal" fill="#1e1e1e" stroke="#1e1e1e" stroke-width="0.3" >FT</text>
<text x="482.50" y="207.80" font-size="8.4" text-anchor="middle" font-weight="normal" fill="#1e1e1e" stroke="#1e1e1e" stroke-width="0.3" >FT-27</text>
<text x="13.00" y="228.20" font-size="11.2" text-anchor="start" font-weight="bold" fill="#111" stroke="#111" stroke-width="0.3" >D</text>
<rect x="74.00" y="345.54" width="10.50" height="5.66" fill="#3f6aa6" />
<rect x="74.70" y="346.34" width="9.80" height="4.86" fill="#4f81bd" />
<rect x="84.50" y="345.54" width="10.50" height="5.66" fill="#9a3c3a" />
<rect x="84.50" y="346.34" width="9.80" height="4.86" fill="#c0504d" />
<rect x="110.70" y="328.56" width="10.90" height="22.64" fill="#3f6aa6" />
<rect x="111.40" y="329.36" width="10.20" height="21.84" fill="#4f81bd" />
<rect x="121.60" y="320.35" width="10.70" height="30.85" fill="#9a3c3a" />
<rect x="121.60" y="321.15" width="10.00" height="30.05" fill="#c0504d" />
<rect x="148.10" y="280.45" width="11.60" height="70.75" fill="#3f6aa6" />
<rect x="148.80" y="281.25" width="10.90" height="69.95" fill="#4f81bd" />
<rect x="159.70" y="242.53" width="10.30" height="108.67" fill="#9a3c3a" />
<rect x="159.70" y="243.33" width="9.60" height="107.87" fill="#c0504d" />
<line x1="65.60" y1="237.50" x2="65.60" y2="351.20" stroke="#111" stroke-width="1.3" />
<line x1="63.10" y1="351.20" x2="188.10" y2="351.20" stroke="#111" stroke-width="1.3" />
<line x1="63.00" y1="351.20" x2="65.60" y2="351.20" stroke="#111" stroke-width="1.1" />
<text x="57.50" y="355.50" font-size="8.4" text-anchor="end" font-weight="normal" fill="#1e1e1e" stroke="#1e1e1e" stroke-width="0.3" >0</text>
<line x1="63.00" y1="339.88" x2="65.60" y2="339.88" stroke="#111" stroke-width="1.1" />
<text x="57.50" y="344.18" font-size="8.4" text-anchor="end" font-weight="normal" fill="#1e1e1e" stroke="#1e1e1e" stroke-width="0.3" >2</text>
<line x1="63.00" y1="328.56" x2="65.60" y2="328.56" stroke="#111" stroke-width="1.1" />
<text x="57.50" y="332.86" font-size="8.4" text-anchor="end" font-weight="normal" fill="#1e1e1e" stroke="#1e1e1e" stroke-width="0.3" >4</text>
<line x1="63.00" y1="317.24" x2="65.60" y2="317.24" stroke="#111" stroke-width="1.1" />
<text x="57.50" y="321.54" font-size="8.4" text-anchor="end" font-weight="normal" fill="#1e1e1e" stroke="#1e1e1e" stroke-width="0.3" >6</text>
<line x1="63.00" y1="305.92" x2="65.60" y2="305.92" stroke="#111" stroke-width="1.1" />
<text x="57.50" y="310.22" font-size="8.4" text-anchor="end" font-weight="normal" fill="#1e1e1e" stroke="#1e1e1e" stroke-width="0.3" >8</text>
<line x1="63.00" y1="294.60" x2="65.60" y2="294.60" stroke="#111" stroke-width="1.1" />
<text x="57.50" y="298.90" font-size="8.4" text-anchor="end" font-weight="normal" fill="#1e1e1e" stroke="#1e1e1e" stroke-width="0.3" >10</text>
<line x1="63.00" y1="283.28" x2="65.60" y2="283.28" stroke="#111" stroke-width="1.1" />
<text x="57.50" y="287.58" font-size="8.4" text-anchor="end" font-weight="normal" fill="#1e1e1e" stroke="#1e1e1e" stroke-width="0.3" >12</text>
<line x1="63.00" y1="271.96" x2="65.60" y2="271.96" stroke="#111" stroke-width="1.1" />
<text x="57.50" y="276.26" font-size="8.4" text-anchor="end" font-weight="normal" fill="#1e1e1e" stroke="#1e1e1e" stroke-width="0.3" >14</text>
<line x1="63.00" y1="260.64" x2="65.60" y2="260.64" stroke="#111" stroke-width="1.1" />
<text x="57.50" y="264.94" font-size="8.4" text-anchor="end" font-weight="normal" fill="#1e1e1e" stroke="#1e1e1e" stroke-width="0.3" >16</text>
<line x1="63.00" y1="249.32" x2="65.60" y2="249.32" stroke="#111" stroke-width="1.1" />
<text x="57.50" y="253.62" font-size="8.4" text-anchor="end" font-weight="normal" fill="#1e1e1e" stroke="#1e1e1e" stroke-width="0.3" >18</text>
<line x1="63.00" y1="238.00" x2="65.60" y2="238.00" stroke="#111" stroke-width="1.1" />
<text x="57.50" y="242.30" font-size="8.4" text-anchor="end" font-weight="normal" fill="#1e1e1e" stroke="#1e1e1e" stroke-width="0.3" >20</text>
<text x="84.70" y="364.00" font-size="8.4" text-anchor="middle" font-weight="normal" fill="#1e1e1e" stroke="#1e1e1e" stroke-width="0.3" >24</text>
<text x="122.20" y="364.00" font-size="8.4" text-anchor="middle" font-weight="normal" fill="#1e1e1e" stroke="#1e1e1e" stroke-width="0.3" >48</text>
<rect x="71.90" y="245.90" width="5.00" height="4.80" fill="#4f81bd" />
<rect x="71.90" y="257.70" width="5.00" height="4.80" fill="#c0504d" />
<text x="80.60" y="250.80" font-size="8.25" text-anchor="start" font-weight="normal" fill="#1e1e1e" stroke="#1e1e1e" stroke-width="0.3" >HTLV-I pAB</text>
<text x="80.60" y="262.60" font-size="8.25" text-anchor="start" font-weight="normal" fill="#1e1e1e" stroke="#1e1e1e" stroke-width="0.3" >HTLV-I pABΔ<tspan font-weight="bold">p30</tspan></text>
<text x="105.60" y="227.10" font-size="8" text-anchor="start" font-weight="bold" fill="#111" stroke="#111" stroke-width="0.3" >FT cells</text>
<text x="0.00" y="0.00" font-size="8.25" text-anchor="middle" font-weight="normal" fill="#1e1e1e" stroke="#1e1e1e" stroke-width="0.3" transform="translate(40.00,298.10) rotate(-90)">Fold increase</text>
<text x="155.40" y="364.00" font-size="8.4" text-anchor="start" font-weight="normal" fill="#1e1e1e" stroke="#1e1e1e" stroke-width="0.3" >72 (hrs)</text>
<line x1="105.80" y1="229.00" x2="135.40" y2="229.00" stroke="#000" stroke-width="1.0" />
<rect x="230.60" y="343.22" width="11.30" height="7.38" fill="#3f6aa6" />
<rect x="231.30" y="344.02" width="10.60" height="6.58" fill="#4f81bd" />
<rect x="241.90" y="343.22" width="12.10" height="7.38" fill="#9a3c3a" />
<rect x="241.90" y="344.02" width="11.40" height="6.58" fill="#c0504d" />
<rect x="271.65" y="314.43" width="12.05" height="36.17" fill="#3f6aa6" />
<rect x="272.35" y="315.23" width="11.35" height="35.37" fill="#4f81bd" />
<rect x="283.70" y="317.38" width="11.70" height="33.22" fill="#9a3c3a" />
<rect x="283.70" y="318.18" width="11.00" height="32.42" fill="#c0504d" />
<rect x="312.50" y="240.62" width="12.00" height="109.98" fill="#3f6aa6" />
<rect x="313.20" y="241.42" width="11.30" height="109.18" fill="#4f81bd" />
<rect x="324.50" y="242.10" width="11.25" height="108.50" fill="#9a3c3a" />
<rect x="324.50" y="242.90" width="10.55" height="107.70" fill="#c0504d" />
<line x1="221.90" y1="232.00" x2="221.90" y2="350.60" stroke="#111" stroke-width="1.3" />
<line x1="218.75" y1="350.60" x2="353.20" y2="350.60" stroke="#111" stroke-width="1.3" />
<line x1="219.30" y1="350.60" x2="221.90" y2="350.60" stroke="#111" stroke-width="1.1" />
<text x="215.20" y="355.60" font-size="8.4" text-anchor="end" font-weight="normal" fill="#1e1e1e" stroke="#1e1e1e" stroke-width="0.3" >0</text>
<line x1="219.30" y1="335.84" x2="221.90" y2="335.84" stroke="#111" stroke-width="1.1" />
<text x="215.20" y="340.84" font-size="8.4" text-anchor="end" font-weight="normal" fill="#1e1e1e" stroke="#1e1e1e" stroke-width="0.3" >2</text>
<line x1="219.30" y1="321.08" x2="221.90" y2="321.08" stroke="#111" stroke-width="1.1" />
<text x="215.20" y="326.08" font-size="8.4" text-anchor="end" font-weight="normal" fill="#1e1e1e" stroke="#1e1e1e" stroke-width="0.3" >4</text>
<line x1="219.30" y1="306.31" x2="221.90" y2="306.31" stroke="#111" stroke-width="1.1" />
<text x="215.20" y="311.31" font-size="8.4" text-anchor="end" font-weight="normal" fill="#1e1e1e" stroke="#1e1e1e" stroke-width="0.3" >6</text>
<line x1="219.30" y1="291.55" x2="221.90" y2="291.55" stroke="#111" stroke-width="1.1" />
<text x="215.20" y="296.55" font-size="8.4" text-anchor="end" font-weight="normal" fill="#1e1e1e" stroke="#1e1e1e" stroke-width="0.3" >8</text>
<line x1="219.30" y1="276.79" x2="221.90" y2="276.79" stroke="#111" stroke-width="1.1" />
<text x="215.20" y="281.79" font-size="8.4" text-anchor="end" font-weight="normal" fill="#1e1e1e" stroke="#1e1e1e" stroke-width="0.3" >10</text>
<line x1="219.30" y1="262.02" x2="221.90" y2="262.02" stroke="#111" stroke-width="1.1" />
<text x="215.20" y="267.02" font-size="8.4" text-anchor="end" font-weight="normal" fill="#1e1e1e" stroke="#1e1e1e" stroke-width="0.3" >12</text>
<line x1="219.30" y1="247.26" x2="221.90" y2="247.26" stroke="#111" stroke-width="1.1" />
<text x="215.20" y="252.26" font-size="8.4" text-anchor="end" font-weight="normal" fill="#1e1e1e" stroke="#1e1e1e" stroke-width="0.3" >14</text>
<line x1="219.30" y1="232.50" x2="221.90" y2="232.50" stroke="#111" stroke-width="1.1" />
<text x="215.20" y="237.50" font-size="8.4" text-anchor="end" font-weight="normal" fill="#1e1e1e" stroke="#1e1e1e" stroke-width="0.3" >16</text>
<text x="243.00" y="366.20" font-size="8.4" text-anchor="middle" font-weight="normal" fill="#1e1e1e" stroke="#1e1e1e" stroke-width="0.3" >24</text>
<text x="284.40" y="366.20" font-size="8.4" text-anchor="middle" font-weight="normal" fill="#1e1e1e" stroke="#1e1e1e" stroke-width="0.3" >48</text>
<rect x="229.40" y="245.70" width="5.00" height="4.80" fill="#4f81bd" />
<rect x="229.40" y="258.20" width="5.00" height="4.80" fill="#c0504d" />
<text x="239.50" y="250.60" font-size="8.25" text-anchor="start" font-weight="normal" fill="#1e1e1e" stroke="#1e1e1e" stroke-width="0.3" >HTLV-I pAB</text>
<text x="239.50" y="263.10" font-size="8.25" text-anchor="start" font-weight="normal" fill="#1e1e1e" stroke="#1e1e1e" stroke-width="0.3" >HTLV-I pABΔ<tspan font-weight="bold">p30</tspan></text>
<text x="252.20" y="231.00" font-size="8" text-anchor="start" font-weight="bold" fill="#111" stroke="#111" stroke-width="0.3" >FT-27 cells</text>
<text x="0.00" y="0.00" font-size="8.25" text-anchor="middle" font-weight="normal" fill="#1e1e1e" stroke="#1e1e1e" stroke-width="0.3" transform="translate(200.00,293.00) rotate(-90)">Fold increase</text>
<text x="320.20" y="366.20" font-size="8.4" text-anchor="start" font-weight="normal" fill="#1e1e1e" stroke="#1e1e1e" stroke-width="0.3" >72 (hrs)</text>
<line x1="252.30" y1="232.40" x2="294.30" y2="232.40" stroke="#000" stroke-width="1.0" />
</svg>
</body></html>
